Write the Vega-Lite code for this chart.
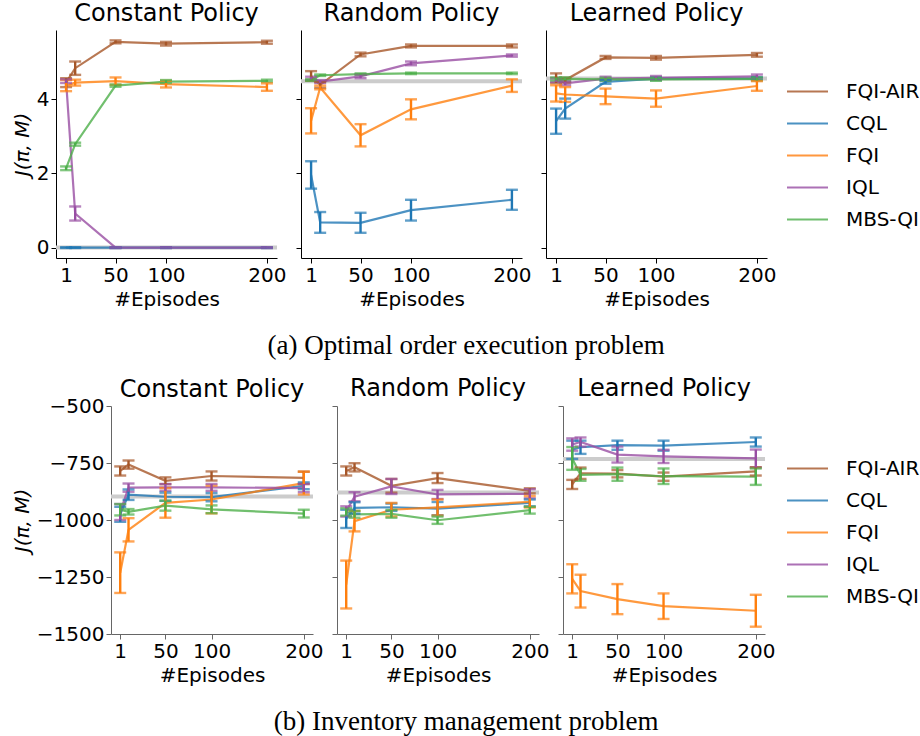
{
  "$schema": "https://vega.github.io/schema/vega-lite/v6.json",
  "background": "white",
  "padding": {"left": 12, "top": 2, "right": 5, "bottom": 5},
  "datasets": {
    "base": [
      {"p": "a", "pol": "Constant", "v": 0},
      {"p": "a", "pol": "Random", "v": 4.49},
      {"p": "a", "pol": "Learned", "v": 4.56},
      {"p": "b", "pol": "Constant", "v": -897},
      {"p": "b", "pol": "Random", "v": -879},
      {"p": "b", "pol": "Learned", "v": -732}
    ],
    "runs": [
      {"p": "a", "pol": "Constant", "method": "FQI-AIR", "ep": 1, "m": 4.45, "lo": 4.33, "hi": 4.57},
      {"p": "a", "pol": "Constant", "method": "FQI-AIR", "ep": 10, "m": 4.84, "lo": 4.66, "hi": 5.02},
      {"p": "a", "pol": "Constant", "method": "FQI-AIR", "ep": 50, "m": 5.55, "lo": 5.51, "hi": 5.59},
      {"p": "a", "pol": "Constant", "method": "FQI-AIR", "ep": 100, "m": 5.5, "lo": 5.45, "hi": 5.55},
      {"p": "a", "pol": "Constant", "method": "FQI-AIR", "ep": 200, "m": 5.54, "lo": 5.5, "hi": 5.58},
      {"p": "a", "pol": "Constant", "method": "CQL", "ep": 1, "m": 0, "lo": -0.01, "hi": 0.01},
      {"p": "a", "pol": "Constant", "method": "CQL", "ep": 10, "m": 0, "lo": -0.01, "hi": 0.01},
      {"p": "a", "pol": "Constant", "method": "CQL", "ep": 50, "m": 0, "lo": -0.01, "hi": 0.01},
      {"p": "a", "pol": "Constant", "method": "CQL", "ep": 100, "m": 0, "lo": -0.01, "hi": 0.01},
      {"p": "a", "pol": "Constant", "method": "CQL", "ep": 200, "m": 0, "lo": -0.01, "hi": 0.01},
      {"p": "a", "pol": "Constant", "method": "FQI", "ep": 1, "m": 4.37, "lo": 4.22, "hi": 4.52},
      {"p": "a", "pol": "Constant", "method": "FQI", "ep": 10, "m": 4.45, "lo": 4.37, "hi": 4.53},
      {"p": "a", "pol": "Constant", "method": "FQI", "ep": 50, "m": 4.49, "lo": 4.39, "hi": 4.59},
      {"p": "a", "pol": "Constant", "method": "FQI", "ep": 100, "m": 4.41, "lo": 4.32, "hi": 4.5},
      {"p": "a", "pol": "Constant", "method": "FQI", "ep": 200, "m": 4.33, "lo": 4.23, "hi": 4.43},
      {"p": "a", "pol": "Constant", "method": "IQL", "ep": 1, "m": 4.49, "lo": 4.44, "hi": 4.54},
      {"p": "a", "pol": "Constant", "method": "IQL", "ep": 10, "m": 0.92, "lo": 0.73, "hi": 1.11},
      {"p": "a", "pol": "Constant", "method": "IQL", "ep": 50, "m": 0, "lo": -0.01, "hi": 0.01},
      {"p": "a", "pol": "Constant", "method": "IQL", "ep": 100, "m": 0, "lo": -0.01, "hi": 0.01},
      {"p": "a", "pol": "Constant", "method": "IQL", "ep": 200, "m": 0, "lo": -0.01, "hi": 0.01},
      {"p": "a", "pol": "Constant", "method": "MBS-QI", "ep": 1, "m": 2.14, "lo": 2.09, "hi": 2.19},
      {"p": "a", "pol": "Constant", "method": "MBS-QI", "ep": 10, "m": 2.79, "lo": 2.75, "hi": 2.83},
      {"p": "a", "pol": "Constant", "method": "MBS-QI", "ep": 50, "m": 4.37, "lo": 4.34, "hi": 4.4},
      {"p": "a", "pol": "Constant", "method": "MBS-QI", "ep": 100, "m": 4.48, "lo": 4.44, "hi": 4.52},
      {"p": "a", "pol": "Constant", "method": "MBS-QI", "ep": 200, "m": 4.5, "lo": 4.47, "hi": 4.53},

      {"p": "a", "pol": "Random", "method": "FQI-AIR", "ep": 1, "m": 4.63, "lo": 4.5, "hi": 4.76},
      {"p": "a", "pol": "Random", "method": "FQI-AIR", "ep": 10, "m": 4.39, "lo": 4.31, "hi": 4.47},
      {"p": "a", "pol": "Random", "method": "FQI-AIR", "ep": 50, "m": 5.21, "lo": 5.16, "hi": 5.26},
      {"p": "a", "pol": "Random", "method": "FQI-AIR", "ep": 100, "m": 5.44, "lo": 5.4, "hi": 5.48},
      {"p": "a", "pol": "Random", "method": "FQI-AIR", "ep": 200, "m": 5.44, "lo": 5.4, "hi": 5.48},
      {"p": "a", "pol": "Random", "method": "CQL", "ep": 1, "m": 1.96, "lo": 1.59, "hi": 2.33},
      {"p": "a", "pol": "Random", "method": "CQL", "ep": 10, "m": 0.68, "lo": 0.4, "hi": 0.96},
      {"p": "a", "pol": "Random", "method": "CQL", "ep": 50, "m": 0.67, "lo": 0.4, "hi": 0.94},
      {"p": "a", "pol": "Random", "method": "CQL", "ep": 100, "m": 1.01, "lo": 0.73, "hi": 1.29},
      {"p": "a", "pol": "Random", "method": "CQL", "ep": 200, "m": 1.29, "lo": 1.02, "hi": 1.56},
      {"p": "a", "pol": "Random", "method": "FQI", "ep": 1, "m": 3.42, "lo": 3.08, "hi": 3.76},
      {"p": "a", "pol": "Random", "method": "FQI", "ep": 10, "m": 4.32, "lo": 4.27, "hi": 4.37},
      {"p": "a", "pol": "Random", "method": "FQI", "ep": 50, "m": 3.03, "lo": 2.73, "hi": 3.33},
      {"p": "a", "pol": "Random", "method": "FQI", "ep": 100, "m": 3.73, "lo": 3.46, "hi": 4.0},
      {"p": "a", "pol": "Random", "method": "FQI", "ep": 200, "m": 4.37, "lo": 4.2, "hi": 4.54},
      {"p": "a", "pol": "Random", "method": "IQL", "ep": 1, "m": 4.57, "lo": 4.53, "hi": 4.61},
      {"p": "a", "pol": "Random", "method": "IQL", "ep": 10, "m": 4.48, "lo": 4.44, "hi": 4.52},
      {"p": "a", "pol": "Random", "method": "IQL", "ep": 50, "m": 4.62, "lo": 4.57, "hi": 4.67},
      {"p": "a", "pol": "Random", "method": "IQL", "ep": 100, "m": 4.97, "lo": 4.92, "hi": 5.02},
      {"p": "a", "pol": "Random", "method": "IQL", "ep": 200, "m": 5.18, "lo": 5.15, "hi": 5.21},
      {"p": "a", "pol": "Random", "method": "MBS-QI", "ep": 1, "m": 4.52, "lo": 4.5, "hi": 4.54},
      {"p": "a", "pol": "Random", "method": "MBS-QI", "ep": 10, "m": 4.65, "lo": 4.63, "hi": 4.67},
      {"p": "a", "pol": "Random", "method": "MBS-QI", "ep": 50, "m": 4.68, "lo": 4.66, "hi": 4.7},
      {"p": "a", "pol": "Random", "method": "MBS-QI", "ep": 100, "m": 4.7, "lo": 4.68, "hi": 4.72},
      {"p": "a", "pol": "Random", "method": "MBS-QI", "ep": 200, "m": 4.7, "lo": 4.68, "hi": 4.72},

      {"p": "a", "pol": "Learned", "method": "FQI-AIR", "ep": 1, "m": 4.57, "lo": 4.44, "hi": 4.7},
      {"p": "a", "pol": "Learned", "method": "FQI-AIR", "ep": 10, "m": 4.52, "lo": 4.46, "hi": 4.58},
      {"p": "a", "pol": "Learned", "method": "FQI-AIR", "ep": 50, "m": 5.13, "lo": 5.09, "hi": 5.17},
      {"p": "a", "pol": "Learned", "method": "FQI-AIR", "ep": 100, "m": 5.12, "lo": 5.07, "hi": 5.17},
      {"p": "a", "pol": "Learned", "method": "FQI-AIR", "ep": 200, "m": 5.2, "lo": 5.15, "hi": 5.25},
      {"p": "a", "pol": "Learned", "method": "CQL", "ep": 1, "m": 3.41, "lo": 3.07, "hi": 3.75},
      {"p": "a", "pol": "Learned", "method": "CQL", "ep": 10, "m": 3.75, "lo": 3.48, "hi": 4.02},
      {"p": "a", "pol": "Learned", "method": "CQL", "ep": 50, "m": 4.47, "lo": 4.42, "hi": 4.52},
      {"p": "a", "pol": "Learned", "method": "CQL", "ep": 100, "m": 4.56, "lo": 4.52, "hi": 4.6},
      {"p": "a", "pol": "Learned", "method": "CQL", "ep": 200, "m": 4.56, "lo": 4.52, "hi": 4.6},
      {"p": "a", "pol": "Learned", "method": "FQI", "ep": 1, "m": 4.16, "lo": 3.94, "hi": 4.38},
      {"p": "a", "pol": "Learned", "method": "FQI", "ep": 10, "m": 4.13, "lo": 3.93, "hi": 4.33},
      {"p": "a", "pol": "Learned", "method": "FQI", "ep": 50, "m": 4.08, "lo": 3.87, "hi": 4.29},
      {"p": "a", "pol": "Learned", "method": "FQI", "ep": 100, "m": 4.02, "lo": 3.8, "hi": 4.24},
      {"p": "a", "pol": "Learned", "method": "FQI", "ep": 200, "m": 4.36, "lo": 4.23, "hi": 4.49},
      {"p": "a", "pol": "Learned", "method": "IQL", "ep": 1, "m": 4.52, "lo": 4.47, "hi": 4.57},
      {"p": "a", "pol": "Learned", "method": "IQL", "ep": 10, "m": 4.43, "lo": 4.38, "hi": 4.48},
      {"p": "a", "pol": "Learned", "method": "IQL", "ep": 50, "m": 4.56, "lo": 4.51, "hi": 4.61},
      {"p": "a", "pol": "Learned", "method": "IQL", "ep": 100, "m": 4.58, "lo": 4.53, "hi": 4.63},
      {"p": "a", "pol": "Learned", "method": "IQL", "ep": 200, "m": 4.62, "lo": 4.57, "hi": 4.67},
      {"p": "a", "pol": "Learned", "method": "MBS-QI", "ep": 1, "m": 4.55, "lo": 4.51, "hi": 4.59},
      {"p": "a", "pol": "Learned", "method": "MBS-QI", "ep": 10, "m": 4.55, "lo": 4.51, "hi": 4.59},
      {"p": "a", "pol": "Learned", "method": "MBS-QI", "ep": 50, "m": 4.54, "lo": 4.5, "hi": 4.58},
      {"p": "a", "pol": "Learned", "method": "MBS-QI", "ep": 100, "m": 4.54, "lo": 4.5, "hi": 4.58},
      {"p": "a", "pol": "Learned", "method": "MBS-QI", "ep": 200, "m": 4.55, "lo": 4.51, "hi": 4.59},

      {"p": "b", "pol": "Constant", "method": "FQI-AIR", "ep": 1, "m": -785, "lo": -805, "hi": -765},
      {"p": "b", "pol": "Constant", "method": "FQI-AIR", "ep": 10, "m": -757, "lo": -775, "hi": -739},
      {"p": "b", "pol": "Constant", "method": "FQI-AIR", "ep": 50, "m": -828, "lo": -843, "hi": -813},
      {"p": "b", "pol": "Constant", "method": "FQI-AIR", "ep": 100, "m": -807, "lo": -827, "hi": -787},
      {"p": "b", "pol": "Constant", "method": "FQI-AIR", "ep": 200, "m": -815, "lo": -842, "hi": -788},
      {"p": "b", "pol": "Constant", "method": "CQL", "ep": 1, "m": -975, "lo": -1008, "hi": -942},
      {"p": "b", "pol": "Constant", "method": "CQL", "ep": 10, "m": -889, "lo": -912, "hi": -866},
      {"p": "b", "pol": "Constant", "method": "CQL", "ep": 50, "m": -898, "lo": -916, "hi": -880},
      {"p": "b", "pol": "Constant", "method": "CQL", "ep": 100, "m": -900, "lo": -918, "hi": -882},
      {"p": "b", "pol": "Constant", "method": "CQL", "ep": 200, "m": -850, "lo": -865, "hi": -835},
      {"p": "b", "pol": "Constant", "method": "FQI", "ep": 1, "m": -1231, "lo": -1320, "hi": -1142},
      {"p": "b", "pol": "Constant", "method": "FQI", "ep": 10, "m": -1043, "lo": -1094, "hi": -992},
      {"p": "b", "pol": "Constant", "method": "FQI", "ep": 50, "m": -925, "lo": -990, "hi": -860},
      {"p": "b", "pol": "Constant", "method": "FQI", "ep": 100, "m": -910, "lo": -971, "hi": -849},
      {"p": "b", "pol": "Constant", "method": "FQI", "ep": 200, "m": -838, "lo": -888, "hi": -788},
      {"p": "b", "pol": "Constant", "method": "IQL", "ep": 1, "m": -965, "lo": -1000, "hi": -930},
      {"p": "b", "pol": "Constant", "method": "IQL", "ep": 10, "m": -858, "lo": -876, "hi": -840},
      {"p": "b", "pol": "Constant", "method": "IQL", "ep": 50, "m": -857, "lo": -872, "hi": -842},
      {"p": "b", "pol": "Constant", "method": "IQL", "ep": 100, "m": -857, "lo": -872, "hi": -842},
      {"p": "b", "pol": "Constant", "method": "IQL", "ep": 200, "m": -860, "lo": -878, "hi": -842},
      {"p": "b", "pol": "Constant", "method": "MBS-QI", "ep": 1, "m": -955, "lo": -980, "hi": -930},
      {"p": "b", "pol": "Constant", "method": "MBS-QI", "ep": 10, "m": -964, "lo": -976, "hi": -952},
      {"p": "b", "pol": "Constant", "method": "MBS-QI", "ep": 50, "m": -937, "lo": -959, "hi": -915},
      {"p": "b", "pol": "Constant", "method": "MBS-QI", "ep": 100, "m": -953, "lo": -970, "hi": -936},
      {"p": "b", "pol": "Constant", "method": "MBS-QI", "ep": 200, "m": -972, "lo": -989, "hi": -955},

      {"p": "b", "pol": "Random", "method": "FQI-AIR", "ep": 1, "m": -785, "lo": -805, "hi": -765},
      {"p": "b", "pol": "Random", "method": "FQI-AIR", "ep": 10, "m": -769, "lo": -787, "hi": -751},
      {"p": "b", "pol": "Random", "method": "FQI-AIR", "ep": 50, "m": -850, "lo": -880, "hi": -820},
      {"p": "b", "pol": "Random", "method": "FQI-AIR", "ep": 100, "m": -816, "lo": -838, "hi": -794},
      {"p": "b", "pol": "Random", "method": "FQI-AIR", "ep": 200, "m": -872, "lo": -883, "hi": -861},
      {"p": "b", "pol": "Random", "method": "CQL", "ep": 1, "m": -995, "lo": -1035, "hi": -955},
      {"p": "b", "pol": "Random", "method": "CQL", "ep": 10, "m": -947, "lo": -972, "hi": -922},
      {"p": "b", "pol": "Random", "method": "CQL", "ep": 50, "m": -944, "lo": -960, "hi": -928},
      {"p": "b", "pol": "Random", "method": "CQL", "ep": 100, "m": -950, "lo": -979, "hi": -921},
      {"p": "b", "pol": "Random", "method": "CQL", "ep": 200, "m": -925, "lo": -940, "hi": -910},
      {"p": "b", "pol": "Random", "method": "FQI", "ep": 1, "m": -1283, "lo": -1388, "hi": -1178},
      {"p": "b", "pol": "Random", "method": "FQI", "ep": 10, "m": -1005, "lo": -1050, "hi": -960},
      {"p": "b", "pol": "Random", "method": "FQI", "ep": 50, "m": -955, "lo": -985, "hi": -925},
      {"p": "b", "pol": "Random", "method": "FQI", "ep": 100, "m": -945, "lo": -980, "hi": -910},
      {"p": "b", "pol": "Random", "method": "FQI", "ep": 200, "m": -920, "lo": -945, "hi": -895},
      {"p": "b", "pol": "Random", "method": "IQL", "ep": 1, "m": -962, "lo": -985, "hi": -940},
      {"p": "b", "pol": "Random", "method": "IQL", "ep": 10, "m": -898, "lo": -918, "hi": -878},
      {"p": "b", "pol": "Random", "method": "IQL", "ep": 50, "m": -853, "lo": -886, "hi": -820},
      {"p": "b", "pol": "Random", "method": "IQL", "ep": 100, "m": -888, "lo": -908, "hi": -868},
      {"p": "b", "pol": "Random", "method": "IQL", "ep": 200, "m": -885, "lo": -905, "hi": -865},
      {"p": "b", "pol": "Random", "method": "MBS-QI", "ep": 1, "m": -965, "lo": -981, "hi": -949},
      {"p": "b", "pol": "Random", "method": "MBS-QI", "ep": 10, "m": -975, "lo": -990, "hi": -960},
      {"p": "b", "pol": "Random", "method": "MBS-QI", "ep": 50, "m": -973, "lo": -990, "hi": -956},
      {"p": "b", "pol": "Random", "method": "MBS-QI", "ep": 100, "m": -1001, "lo": -1017, "hi": -985},
      {"p": "b", "pol": "Random", "method": "MBS-QI", "ep": 200, "m": -957, "lo": -972, "hi": -942},

      {"p": "b", "pol": "Learned", "method": "FQI-AIR", "ep": 1, "m": -844, "lo": -864, "hi": -824},
      {"p": "b", "pol": "Learned", "method": "FQI-AIR", "ep": 10, "m": -795, "lo": -820, "hi": -770},
      {"p": "b", "pol": "Learned", "method": "FQI-AIR", "ep": 50, "m": -797, "lo": -813, "hi": -781},
      {"p": "b", "pol": "Learned", "method": "FQI-AIR", "ep": 100, "m": -810, "lo": -828, "hi": -792},
      {"p": "b", "pol": "Learned", "method": "FQI-AIR", "ep": 200, "m": -787, "lo": -805, "hi": -769},
      {"p": "b", "pol": "Learned", "method": "CQL", "ep": 1, "m": -692, "lo": -732, "hi": -652},
      {"p": "b", "pol": "Learned", "method": "CQL", "ep": 10, "m": -681, "lo": -710, "hi": -652},
      {"p": "b", "pol": "Learned", "method": "CQL", "ep": 50, "m": -672, "lo": -692, "hi": -652},
      {"p": "b", "pol": "Learned", "method": "CQL", "ep": 100, "m": -674, "lo": -696, "hi": -652},
      {"p": "b", "pol": "Learned", "method": "CQL", "ep": 200, "m": -658, "lo": -678, "hi": -638},
      {"p": "b", "pol": "Learned", "method": "FQI", "ep": 1, "m": -1258, "lo": -1322, "hi": -1194},
      {"p": "b", "pol": "Learned", "method": "FQI", "ep": 10, "m": -1312, "lo": -1384, "hi": -1240},
      {"p": "b", "pol": "Learned", "method": "FQI", "ep": 50, "m": -1347, "lo": -1413, "hi": -1281},
      {"p": "b", "pol": "Learned", "method": "FQI", "ep": 100, "m": -1378, "lo": -1434, "hi": -1322},
      {"p": "b", "pol": "Learned", "method": "FQI", "ep": 200, "m": -1398, "lo": -1468, "hi": -1328},
      {"p": "b", "pol": "Learned", "method": "IQL", "ep": 1, "m": -669, "lo": -696, "hi": -642},
      {"p": "b", "pol": "Learned", "method": "IQL", "ep": 10, "m": -658, "lo": -678, "hi": -638},
      {"p": "b", "pol": "Learned", "method": "IQL", "ep": 50, "m": -713, "lo": -748, "hi": -678},
      {"p": "b", "pol": "Learned", "method": "IQL", "ep": 100, "m": -721, "lo": -750, "hi": -692},
      {"p": "b", "pol": "Learned", "method": "IQL", "ep": 200, "m": -730, "lo": -769, "hi": -691},
      {"p": "b", "pol": "Learned", "method": "MBS-QI", "ep": 1, "m": -730, "lo": -780, "hi": -680},
      {"p": "b", "pol": "Learned", "method": "MBS-QI", "ep": 10, "m": -802, "lo": -828, "hi": -776},
      {"p": "b", "pol": "Learned", "method": "MBS-QI", "ep": 50, "m": -799, "lo": -828, "hi": -770},
      {"p": "b", "pol": "Learned", "method": "MBS-QI", "ep": 100, "m": -808, "lo": -842, "hi": -774},
      {"p": "b", "pol": "Learned", "method": "MBS-QI", "ep": 200, "m": -810, "lo": -846, "hi": -774}
    ]
  },
  "vconcat": [
    {
      "title": {"text": "(a) Optimal order execution problem", "orient": "bottom", "anchor": "middle", "font": "Liberation Serif", "fontSize": 27, "fontWeight": "normal", "offset": 24},
      "spacing": 24,
      "bounds": "flush",
      "hconcat": [
        {
          "title": "Constant Policy", "width": 221, "height": 228,
          "layer": [
            {"data": {"name": "base"}, "transform": [{"filter": "datum.p == 'a' && datum.pol == 'Constant'"}],
             "mark": {"type": "rule", "color": "#cccccc", "strokeWidth": 4},
             "encoding": {"y": {"field": "v", "type": "quantitative", "title": "J(π, M)", "scale": {"domain": [-0.28, 5.87], "nice": false, "zero": false}, "axis": {"values": [0, 2, 4], "title": "J(π, M)", "titleFontStyle": "italic"}}}},
            {"data": {"name": "runs"}, "transform": [{"filter": "datum.p == 'a' && datum.pol == 'Constant'"}],
             "mark": {"type": "line", "strokeWidth": 2.2, "opacity": 0.8},
             "encoding": {
               "x": {"field": "ep", "type": "quantitative", "scale": {"domain": [-9, 210], "nice": false, "zero": false}, "axis": {"values": [1, 50, 100, 200], "title": "#Episodes"}},
               "y": {"field": "m", "type": "quantitative", "title": "J(π, M)"},
               "color": {"field": "method", "type": "nominal", "scale": {"domain": ["FQI-AIR", "CQL", "FQI", "IQL", "MBS-QI"], "range": ["#a65628", "#1f77b4", "#ff7f0e", "#984ea3", "#4daf4a"]},
                 "legend": {"orient": "none", "legendX": 730, "legendY": 40}}}},
            {"data": {"name": "runs"}, "transform": [{"filter": "datum.p == 'a' && datum.pol == 'Constant'"}],
             "mark": {"type": "errorbar", "ticks": {"size": 12}, "thickness": 2.4},
             "encoding": {
               "x": {"field": "ep", "type": "quantitative", "title": "#Episodes"},
               "y": {"field": "lo", "type": "quantitative", "title": "J(π, M)"},
               "y2": {"field": "hi"},
               "color": {"field": "method", "type": "nominal"}}}
          ]
        },
        {
          "title": "Random Policy", "width": 221, "height": 228,
          "layer": [
            {"data": {"name": "base"}, "transform": [{"filter": "datum.p == 'a' && datum.pol == 'Random'"}],
             "mark": {"type": "rule", "color": "#cccccc", "strokeWidth": 4},
             "encoding": {"y": {"field": "v", "type": "quantitative", "title": null, "scale": {"domain": [-0.28, 5.87], "nice": false, "zero": false}, "axis": {"values": [0, 2, 4], "labels": false, "title": null}}}},
            {"data": {"name": "runs"}, "transform": [{"filter": "datum.p == 'a' && datum.pol == 'Random'"}],
             "mark": {"type": "line", "strokeWidth": 2.2, "opacity": 0.8},
             "encoding": {
               "x": {"field": "ep", "type": "quantitative", "scale": {"domain": [-9, 210], "nice": false, "zero": false}, "axis": {"values": [1, 50, 100, 200], "title": "#Episodes"}},
               "y": {"field": "m", "type": "quantitative", "title": null},
               "color": {"field": "method", "type": "nominal"}}},
            {"data": {"name": "runs"}, "transform": [{"filter": "datum.p == 'a' && datum.pol == 'Random'"}],
             "mark": {"type": "errorbar", "ticks": {"size": 12}, "thickness": 2.4},
             "encoding": {
               "x": {"field": "ep", "type": "quantitative", "title": "#Episodes"},
               "y": {"field": "lo", "type": "quantitative", "title": null},
               "y2": {"field": "hi"},
               "color": {"field": "method", "type": "nominal"}}}
          ]
        },
        {
          "title": "Learned Policy", "width": 221, "height": 228,
          "layer": [
            {"data": {"name": "base"}, "transform": [{"filter": "datum.p == 'a' && datum.pol == 'Learned'"}],
             "mark": {"type": "rule", "color": "#cccccc", "strokeWidth": 4},
             "encoding": {"y": {"field": "v", "type": "quantitative", "title": null, "scale": {"domain": [-0.28, 5.87], "nice": false, "zero": false}, "axis": {"values": [0, 2, 4], "labels": false, "title": null}}}},
            {"data": {"name": "runs"}, "transform": [{"filter": "datum.p == 'a' && datum.pol == 'Learned'"}],
             "mark": {"type": "line", "strokeWidth": 2.2, "opacity": 0.8},
             "encoding": {
               "x": {"field": "ep", "type": "quantitative", "scale": {"domain": [-9, 210], "nice": false, "zero": false}, "axis": {"values": [1, 50, 100, 200], "title": "#Episodes"}},
               "y": {"field": "m", "type": "quantitative", "title": null},
               "color": {"field": "method", "type": "nominal"}}},
            {"data": {"name": "runs"}, "transform": [{"filter": "datum.p == 'a' && datum.pol == 'Learned'"}],
             "mark": {"type": "errorbar", "ticks": {"size": 12}, "thickness": 2.4},
             "encoding": {
               "x": {"field": "ep", "type": "quantitative", "title": "#Episodes"},
               "y": {"field": "lo", "type": "quantitative", "title": null},
               "y2": {"field": "hi"},
               "color": {"field": "method", "type": "nominal"}}}
          ]
        }
      ]
    },
    {
      "title": {"text": "(b) Inventory management problem", "orient": "bottom", "anchor": "middle", "font": "Liberation Serif", "fontSize": 27, "fontWeight": "normal", "offset": 24},
      "spacing": 24,
      "bounds": "flush",
      "hconcat": [
        {
          "width": 31, "height": 228,
          "data": {"values": [{"t": ""}]},
          "mark": {"type": "text", "opacity": 0},
          "encoding": {"text": {"field": "t"}}
        },
        {
          "title": {"text": "Constant Policy", "offset": -6}, "width": 202, "height": 228,
          "layer": [
            {"data": {"name": "base"}, "transform": [{"filter": "datum.p == 'b' && datum.pol == 'Constant'"}],
             "mark": {"type": "rule", "color": "#cccccc", "strokeWidth": 4},
             "encoding": {"y": {"field": "v", "type": "quantitative", "title": "J(π, M)", "scale": {"domain": [-1500, -500], "nice": false, "zero": false}, "axis": {"values": [-1500, -1250, -1000, -750, -500], "format": "d", "title": "J(π, M)", "titleFontStyle": "italic", "domainColor": "#666666", "tickColor": "#666666"}}}},
            {"data": {"name": "runs"}, "transform": [{"filter": "datum.p == 'b' && datum.pol == 'Constant'"}],
             "mark": {"type": "line", "strokeWidth": 2.2, "opacity": 0.8},
             "encoding": {
               "x": {"field": "ep", "type": "quantitative", "scale": {"domain": [-9, 210], "nice": false, "zero": false}, "axis": {"values": [1, 50, 100, 200], "title": "#Episodes", "domainColor": "#666666", "tickColor": "#666666"}},
               "y": {"field": "m", "type": "quantitative", "title": "J(π, M)"},
               "color": {"field": "method", "type": "nominal", "scale": {"domain": ["FQI-AIR", "CQL", "FQI", "IQL", "MBS-QI"], "range": ["#a65628", "#1f77b4", "#ff7f0e", "#984ea3", "#4daf4a"]},
                 "legend": {"orient": "none", "legendX": 730, "legendY": 41}}}},
            {"data": {"name": "runs"}, "transform": [{"filter": "datum.p == 'b' && datum.pol == 'Constant'"}],
             "mark": {"type": "errorbar", "ticks": {"size": 12}, "thickness": 2.4},
             "encoding": {
               "x": {"field": "ep", "type": "quantitative", "title": "#Episodes"},
               "y": {"field": "lo", "type": "quantitative", "title": "J(π, M)"},
               "y2": {"field": "hi"},
               "color": {"field": "method", "type": "nominal"}}}
          ]
        },
        {
          "title": {"text": "Random Policy", "offset": 5}, "width": 202, "height": 228,
          "layer": [
            {"data": {"name": "base"}, "transform": [{"filter": "datum.p == 'b' && datum.pol == 'Random'"}],
             "mark": {"type": "rule", "color": "#cccccc", "strokeWidth": 4},
             "encoding": {"y": {"field": "v", "type": "quantitative", "title": null, "scale": {"domain": [-1500, -500], "nice": false, "zero": false}, "axis": {"values": [-1500, -1250, -1000, -750, -500], "labels": false, "title": null, "domainColor": "#666666", "tickColor": "#666666"}}}},
            {"data": {"name": "runs"}, "transform": [{"filter": "datum.p == 'b' && datum.pol == 'Random'"}],
             "mark": {"type": "line", "strokeWidth": 2.2, "opacity": 0.8},
             "encoding": {
               "x": {"field": "ep", "type": "quantitative", "scale": {"domain": [-9, 210], "nice": false, "zero": false}, "axis": {"values": [1, 50, 100, 200], "title": "#Episodes", "domainColor": "#666666", "tickColor": "#666666"}},
               "y": {"field": "m", "type": "quantitative", "title": null},
               "color": {"field": "method", "type": "nominal"}}},
            {"data": {"name": "runs"}, "transform": [{"filter": "datum.p == 'b' && datum.pol == 'Random'"}],
             "mark": {"type": "errorbar", "ticks": {"size": 12}, "thickness": 2.4},
             "encoding": {
               "x": {"field": "ep", "type": "quantitative", "title": "#Episodes"},
               "y": {"field": "lo", "type": "quantitative", "title": null},
               "y2": {"field": "hi"},
               "color": {"field": "method", "type": "nominal"}}}
          ]
        },
        {
          "title": {"text": "Learned Policy", "offset": 5}, "width": 202, "height": 228,
          "layer": [
            {"data": {"name": "base"}, "transform": [{"filter": "datum.p == 'b' && datum.pol == 'Learned'"}],
             "mark": {"type": "rule", "color": "#cccccc", "strokeWidth": 4},
             "encoding": {"y": {"field": "v", "type": "quantitative", "title": null, "scale": {"domain": [-1500, -500], "nice": false, "zero": false}, "axis": {"values": [-1500, -1250, -1000, -750, -500], "labels": false, "title": null, "domainColor": "#666666", "tickColor": "#666666"}}}},
            {"data": {"name": "runs"}, "transform": [{"filter": "datum.p == 'b' && datum.pol == 'Learned'"}],
             "mark": {"type": "line", "strokeWidth": 2.2, "opacity": 0.8},
             "encoding": {
               "x": {"field": "ep", "type": "quantitative", "scale": {"domain": [-9, 210], "nice": false, "zero": false}, "axis": {"values": [1, 50, 100, 200], "title": "#Episodes", "domainColor": "#666666", "tickColor": "#666666"}},
               "y": {"field": "m", "type": "quantitative", "title": null},
               "color": {"field": "method", "type": "nominal"}}},
            {"data": {"name": "runs"}, "transform": [{"filter": "datum.p == 'b' && datum.pol == 'Learned'"}],
             "mark": {"type": "errorbar", "ticks": {"size": 12}, "thickness": 2.4},
             "encoding": {
               "x": {"field": "ep", "type": "quantitative", "title": "#Episodes"},
               "y": {"field": "lo", "type": "quantitative", "title": null},
               "y2": {"field": "hi"},
               "color": {"field": "method", "type": "nominal"}}}
          ]
        }
      ]
    }
  ],
  "spacing": 17,
  "resolve": {"scale": {"color": "independent"}},
  "config": {
    "font": "DejaVu Sans",
    "view": {"stroke": null},
    "title": {"font": "DejaVu Sans", "fontSize": 24, "fontWeight": "normal", "color": "black", "offset": 4},
    "axis": {"grid": false, "domainColor": "black", "tickColor": "black", "tickSize": 5, "labelFontSize": 20, "labelColor": "black", "labelFont": "DejaVu Sans", "labelPadding": 2, "titleFontSize": 20, "titleFont": "DejaVu Sans", "titleFontWeight": "normal", "titleColor": "black", "titlePadding": 4},
    "legend": {"title": null, "symbolType": "stroke", "symbolSize": 1681, "symbolStrokeWidth": 2, "labelFontSize": 20, "labelFont": "DejaVu Sans", "labelColor": "black", "labelOffset": 17, "rowPadding": -11, "padding": 0}
  }
}
